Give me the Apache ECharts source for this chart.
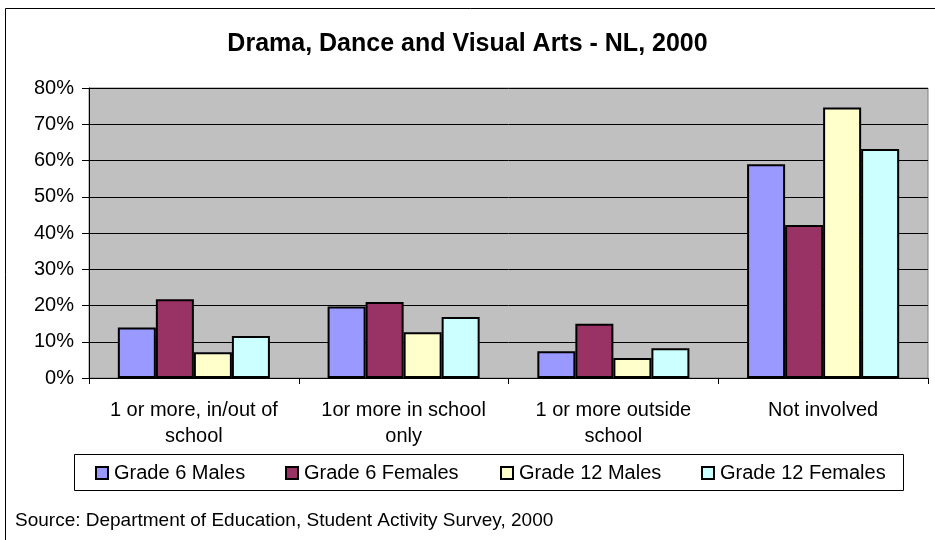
<!DOCTYPE html>
<html>
<head>
<meta charset="utf-8">
<script src="https://cdn.jsdelivr.net/npm/echarts@6/dist/echarts.min.js"></script>
<style>
  html, body { margin: 0; padding: 0; background: #ffffff; }
  #chart { width: 935px; height: 540px; }
</style>
</head>
<body>
<div id="chart"></div>
<script>
// Activity categories (x axis)
const categories = [
  '1 or more, in/out of\nschool',
  '1or more in school\nonly',
  '1 or more outside\nschool',
  'Not involved'
];

// Percent of students in each group
const grade6Males    = [13.9, 19.7, 7.4, 59.0];
const grade6Females  = [21.7, 21.0, 15.0, 42.2];
const grade12Males   = [7.1, 12.6, 5.5, 74.6];
const grade12Females = [11.6, 16.8, 8.2, 63.2];

const seriesNames = ['Grade 6 Males', 'Grade 6 Females', 'Grade 12 Males', 'Grade 12 Females'];
const seriesColors = ['#9999FF', '#993366', '#FFFFCC', '#CCFFFF'];
const seriesData = [grade6Males, grade6Females, grade12Males, grade12Females];

const FONT = 'Liberation Sans, Arial, sans-serif';

const chart = echarts.init(document.getElementById('chart'), null, { renderer: 'canvas' });

const legendLefts = [95, 285, 500, 701];

const option = {
  backgroundColor: '#ffffff',
  animation: false,
  title: {
    text: 'Drama, Dance and Visual Arts - NL, 2000',
    left: 'center',
    top: 27,
    textStyle: { fontFamily: FONT, fontSize: 25, fontWeight: 'bold', color: '#000' }
  },
  legend: seriesNames.map((n, i) => ({
    data: [n],
    left: legendLefts[i],
    top: 463,
    padding: 0,
    icon: 'rect',
    itemWidth: 12,
    itemHeight: 12,
    itemGap: 0,
    textStyle: { fontFamily: FONT, fontSize: 20, color: '#000', padding: [0, 0, 0, 1] },
    selectedMode: false
  })),
  grid: {
    left: 89,
    right: 7,
    top: 88,
    bottom: 162,
    show: true,
    backgroundColor: '#C0C0C0',
    borderColor: '#808080',
    borderWidth: 1,
    containLabel: false
  },
  xAxis: {
    type: 'category',
    data: categories,
    axisLine: { lineStyle: { color: '#000', width: 1 } },
    axisTick: { show: true, alignWithLabel: false, length: 6, lineStyle: { color: '#000' } },
    axisLabel: {
      fontFamily: FONT, fontSize: 20, color: '#000', margin: 19, lineHeight: 26,
      interval: 0
    }
  },
  yAxis: {
    type: 'value',
    min: 0,
    max: 80,
    interval: 10,
    axisLine: { show: true, lineStyle: { color: '#000', width: 1 } },
    axisTick: { show: true, length: 7, lineStyle: { color: '#000' } },
    splitLine: { show: true, lineStyle: { color: '#000', width: 1 } },
    axisLabel: {
      formatter: '{value}%', fontFamily: FONT, fontSize: 20, color: '#000', margin: 15
    }
  },
  series: seriesNames.map((n, i) => ({
    name: n,
    type: 'bar',
    data: seriesData[i],
    barGap: '0%',
    barCategoryGap: '27.5%',
    itemStyle: { color: seriesColors[i], borderColor: '#000', borderWidth: 2 }
  })),
  graphic: [
    {
      type: 'rect',
      shape: { x: 5.5, y: 8.5, width: 945, height: 545 },
      style: { fill: 'none', stroke: '#000', lineWidth: 1 },
      silent: true, z: -1
    },
    {
      type: 'rect',
      shape: { x: 74.5, y: 454.5, width: 829, height: 36 },
      style: { fill: 'none', stroke: '#000', lineWidth: 1 },
      silent: true
    },
    {
      type: 'text',
      left: 15,
      top: 511,
      style: {
        text: 'Source: Department of Education, Student Activity Survey, 2000',
        fontFamily: FONT, fontSize: 19, fill: '#000'
      }
    }
  ]
};

chart.setOption(option);
</script>
</body>
</html>
